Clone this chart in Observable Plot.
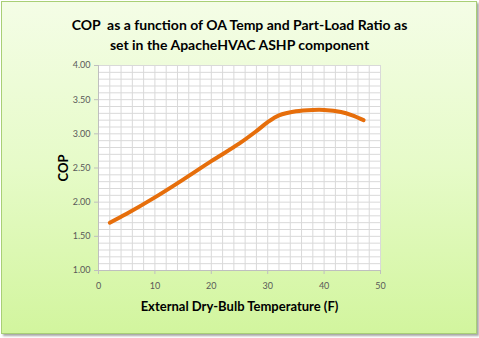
<!DOCTYPE html>
<html>
<head>
<meta charset="utf-8">
<script src="https://cdn.jsdelivr.net/npm/d3@7"></script>
<script src="https://cdn.jsdelivr.net/npm/@observablehq/plot@0.6"></script>
<style>
  html, body { margin: 0; padding: 0; background: #ffffff; }
  #chart {
    position: relative; width: 479px; height: 338px; overflow: hidden;
    font-family: Lato, "Open Sans", sans-serif;
  }
  #panel {
    position: absolute; left: 1px; top: 1px; width: 474px; height: 331px;
    border: 1px solid #a9cf76;
    background: linear-gradient(to bottom, #f4fde6 0%, #e6fbc8 50%, #d2f59e 100%);
    box-shadow: 2px 2px 2px rgba(0,0,0,0.35);
  }
  #title {
    position: absolute; left: 0; top: 15px; width: 479px; text-align: center;
    font-weight: bold; font-size: 14px; line-height: 20px; color: #000;
    white-space: pre;
  }
  #plot { position: absolute; left: 0; top: 0; }
</style>
</head>
<body>
<div id="chart">
  <div id="panel"></div>
  <div id="title">COP  as a function of OA Temp and Part-Load Ratio as
set in the ApacheHVAC ASHP component</div>
  <div id="plot"></div>
</div>
<script>
const temps = [2, 5, 10, 15, 20, 25, 28, 30, 32, 35, 38, 40, 43, 45, 47];
const cop   = [1.70, 1.83, 2.07, 2.33, 2.60, 2.86, 3.04, 3.17, 3.27, 3.33, 3.35, 3.35, 3.32, 3.27, 3.20];
const xTicks = [0, 10, 20, 30, 40, 50];
const yTicks = [1.0, 1.5, 2.0, 2.5, 3.0, 3.5, 4.0];
const xGrid = d3.range(0, 51, 2);
const yGrid = d3.range(10, 41, 1).map(v => v / 10);
const xLabel = "External Dry-Bulb Temperature (F)";
const yLabel = "COP";

const data = temps.map((t, i) => ({t, c: cop[i]}));

const chart = Plot.plot({
  width: 479,
  height: 338,
  marginLeft: 98,
  marginRight: 99,
  marginTop: 65,
  marginBottom: 68,
  style: {background: "transparent", fontFamily: "Lato, 'Open Sans', sans-serif", fontSize: "9px", color: "#595959"},
  x: {domain: [0, 50]},
  y: {domain: [1, 4]},
  marks: [
    Plot.frame({fill: "white", stroke: null}),
    Plot.gridX(xGrid, {stroke: "#d9d9d9", strokeOpacity: 1}),
    Plot.gridY(yGrid, {stroke: "#d9d9d9", strokeOpacity: 1}),
    Plot.ruleX([0], {stroke: "#bfbfbf"}),
    Plot.ruleY([1], {stroke: "#bfbfbf"}),
    Plot.axisX(xTicks, {tickSize: 4, tickPadding: 8, stroke: "#bfbfbf", fill: "#595959",
      label: xLabel, labelAnchor: "center", labelArrow: "none", labelOffset: 40}),
    Plot.axisY(yTicks, {tickSize: 4, tickPadding: 4, stroke: "#bfbfbf", fill: "#595959",
      tickFormat: d => d.toFixed(2), label: yLabel, labelAnchor: "center", labelArrow: "none", labelOffset: 40}),
    Plot.line(data, {x: "t", y: "c", stroke: "#e66e0b", strokeWidth: 4, curve: "catmull-rom", strokeLinecap: "round"})
  ]
});

chart.querySelectorAll("[aria-label='x-axis label'] text, [aria-label='y-axis label'] text").forEach(t => {
  t.setAttribute("fill", "#000");
  t.style.fontWeight = "bold";
  t.style.fontSize = "13px";
});
document.getElementById("plot").appendChild(chart);
</script>
</body>
</html>
